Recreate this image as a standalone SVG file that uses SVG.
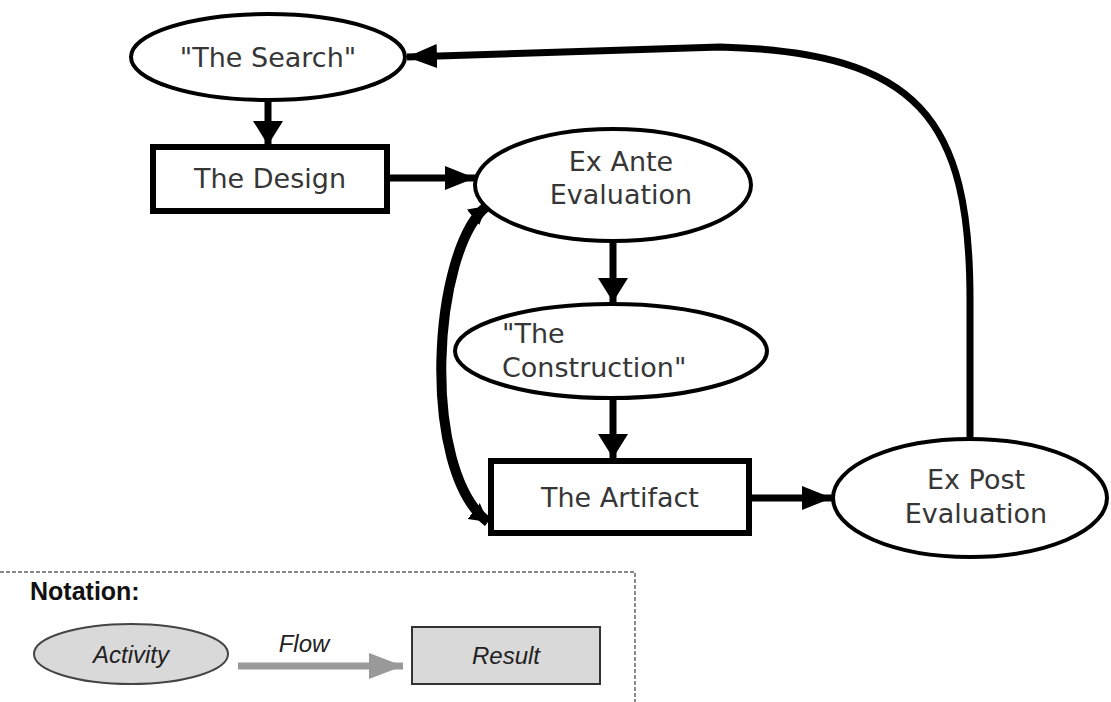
<svg xmlns="http://www.w3.org/2000/svg" width="1111" height="702" viewBox="0 0 1111 702">
  <style>
    .act { fill: #ffffff; stroke: #000; stroke-width: 4; }
    .res { fill: #ffffff; stroke: #000; stroke-width: 6; }
    .lbl { font-family: "DejaVu Sans", "Open Sans", sans-serif; font-size: 27px; fill: #363636; text-anchor: middle; }
    .flow { fill: none; stroke: #000; stroke-width: 7; }
    .leg { font-family: "Liberation Sans", Arial, sans-serif; font-style: italic; font-size: 24px; fill: #222; text-anchor: middle; }
  </style>
  <defs>
    <!-- vertical flow head: short and wide -->
    <marker id="ahv" markerUnits="userSpaceOnUse" markerWidth="32" markerHeight="32" refX="24" refY="15" orient="auto">
      <path d="M0,0 L24,15 L0,30 Z" fill="#000"/>
    </marker>
    <!-- horizontal flow head: longer and slimmer -->
    <marker id="ahh" markerUnits="userSpaceOnUse" markerWidth="34" markerHeight="30" refX="30" refY="12" orient="auto">
      <path d="M0,0 L30,12 L0,24 Z" fill="#000"/>
    </marker>
    <!-- small head for the two-way bend -->
    <marker id="ahb" markerUnits="userSpaceOnUse" markerWidth="24" markerHeight="24" refX="18" refY="10" orient="auto-start-reverse">
      <path d="M0,0 L18,10 L0,20 Z" fill="#000"/>
    </marker>
    <marker id="ahg" markerUnits="userSpaceOnUse" markerWidth="40" markerHeight="40" refX="34" refY="13" orient="auto">
      <path d="M0,0 L34,13 L0,26 Z" fill="#999"/>
    </marker>
  </defs>
  <rect width="1111" height="702" fill="#fff"/>

  <!-- connectors -->
  <g id="connectors">
    <path class="flow" d="M268,100 L268,145" marker-end="url(#ahv)"/>
    <path class="flow" d="M390,178 L475,178" marker-end="url(#ahh)"/>
    <path class="flow" d="M613,241 L613,302" marker-end="url(#ahv)"/>
    <path class="flow" d="M613,398 L613,458" marker-end="url(#ahv)"/>
    <path class="flow" d="M752,498 L832,498" marker-end="url(#ahh)"/>
    <path class="flow" d="M970,439 L970,300 C970,120 920,52 720,47 L407,57" marker-end="url(#ahh)"/>
    <path d="M487,206 C432,250 420,470 488,522" fill="none" stroke="#000" stroke-width="10" marker-start="url(#ahb)" marker-end="url(#ahb)"/>
  </g>

  <g id="search">
    <ellipse class="act" cx="268" cy="57" rx="137" ry="43"/>
    <text class="lbl" x="268" y="67">"The Search"</text>
  </g>

  <g id="design">
    <rect class="res" x="153" y="147" width="234" height="64"/>
    <text class="lbl" x="270" y="188">The Design</text>
  </g>

  <g id="exante">
    <ellipse class="act" cx="613" cy="185" rx="138" ry="56"/>
    <text class="lbl" x="621" y="171">Ex Ante</text>
    <text class="lbl" x="621" y="204">Evaluation</text>
  </g>

  <g id="construction">
    <ellipse class="act" cx="611" cy="351" rx="156" ry="47"/>
    <text class="lbl" x="502" y="343" style="text-anchor:start">"The</text>
    <text class="lbl" x="502" y="377" style="text-anchor:start">Construction"</text>
  </g>

  <g id="artifact">
    <rect class="res" x="491" y="461" width="258" height="72"/>
    <text class="lbl" x="620" y="507">The Artifact</text>
  </g>

  <g id="expost">
    <ellipse class="act" cx="970" cy="498" rx="137" ry="59"/>
    <text class="lbl" x="976" y="489">Ex Post</text>
    <text class="lbl" x="976" y="523">Evaluation</text>
  </g>

  <!-- notation legend -->
  <g id="notation">
    <path d="M0,572 L635,572 L635,702" fill="none" stroke="#888" stroke-width="2" stroke-dasharray="4,2"/>
    <text x="30" y="600" font-family="Liberation Sans, Arial, sans-serif" font-weight="bold" font-size="25" fill="#111">Notation:</text>
    <ellipse cx="131" cy="654" rx="97" ry="30" fill="#d9d9d9" stroke="#444" stroke-width="2"/>
    <text class="leg" x="131" y="663">Activity</text>
    <text class="leg" x="304" y="652">Flow</text>
    <path d="M238,666 L403,666" stroke="#999" stroke-width="7" fill="none" marker-end="url(#ahg)"/>
    <rect x="412" y="627" width="188" height="57" fill="#d9d9d9" stroke="#333" stroke-width="2"/>
    <text class="leg" x="506" y="664">Result</text>
  </g>
</svg>
